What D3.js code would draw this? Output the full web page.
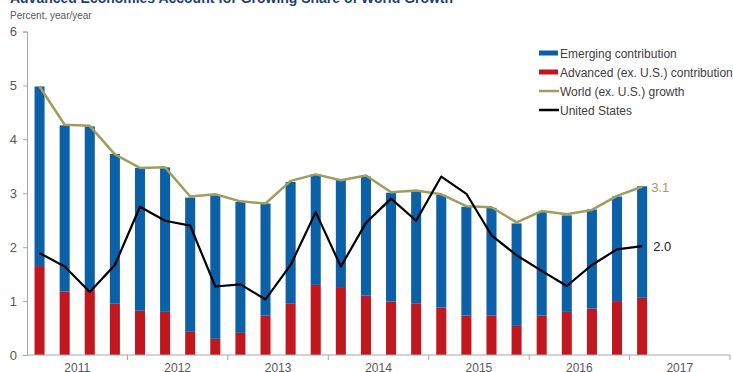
<!DOCTYPE html>
<html>
<head>
<meta charset="utf-8">
<script src="https://cdn.jsdelivr.net/npm/d3@7"></script>
<style>
  body { margin: 0; background: #fff; }
  svg { display: block; font-family: "Liberation Sans", Arial, sans-serif; }
</style>
</head>
<body>
<svg id="chart" width="733" height="372"></svg>
<script>
// ---- data ----
const quarters = ["2011Q1","2011Q2","2011Q3","2011Q4","2012Q1","2012Q2","2012Q3","2012Q4",
  "2013Q1","2013Q2","2013Q3","2013Q4","2014Q1","2014Q2","2014Q3","2014Q4",
  "2015Q1","2015Q2","2015Q3","2015Q4","2016Q1","2016Q2","2016Q3","2016Q4","2017Q1"];
const advancedContribution = [1.65,1.18,1.21,0.95,0.82,0.80,0.43,0.30,
  0.41,0.73,0.96,1.30,1.26,1.10,0.99,0.96,
  0.88,0.73,0.73,0.54,0.73,0.80,0.86,1.00,1.06];
const totalBar = [4.98,4.26,4.24,3.73,3.47,3.48,2.92,2.96,
  2.84,2.81,3.21,3.35,3.25,3.31,3.01,3.04,
  2.97,2.75,2.73,2.44,2.65,2.59,2.70,2.94,3.13];
const emergingContribution = totalBar.map((t, i) => +(t - advancedContribution[i]).toFixed(2));
const worldGrowth = [4.98,4.27,4.25,3.72,3.47,3.48,2.94,2.98,
  2.85,2.81,3.23,3.35,3.24,3.33,3.02,3.05,
  2.98,2.76,2.74,2.46,2.67,2.61,2.69,2.95,3.12];
const usGrowth = [1.89,1.64,1.17,1.67,2.75,2.49,2.40,1.27,
  1.31,1.03,1.67,2.65,1.64,2.45,2.90,2.49,
  3.31,2.99,2.22,1.85,1.56,1.28,1.67,1.96,2.02];
const years = ["2011","2012","2013","2014","2015","2016","2017"];
const yTicks = [0,1,2,3,4,5,6];
const seriesNames = ["Emerging contribution","Advanced (ex. U.S.) contribution","World (ex. U.S.) growth","United States"];
const title = "Advanced Economies Account for Growing Share of World Growth";
const subtitle = "Percent, year/year";
const worldLabel = "3.1";
const usLabel = "2.0";

// ---- styles ----
const C = { blue: "#0B60A8", red: "#C1171F", olive: "#A09E5E", black: "#000000", axis: "#A6A6A6", text: "#595959", title: "#1F3E6E" };

const svg = d3.select("#chart");
const mLeft = 27, mRight = 730, mTop = 31.5, mBottom = 355;

const xYear = d3.scaleBand().domain(years).range([mLeft, mRight]).padding(0);
const allQuarters = years.flatMap(yr => ["Q1","Q2","Q3","Q4"].map(q => yr + q));
const xQ = d3.scaleBand().domain(allQuarters).range([mLeft, mRight]).paddingInner(0.6).paddingOuter(0.3);
const xC = q => xQ(q) + xQ.bandwidth() / 2;
const y = d3.scaleLinear().domain([0, 6]).range([mBottom, mTop]);

// title & subtitle
svg.append("text").attr("x", 10).attr("y", 3).attr("font-size", 14).attr("font-weight", "bold")
  .attr("fill", C.title).attr("textLength", 443).attr("lengthAdjust", "spacingAndGlyphs").text(title);
svg.append("text").attr("x", 10).attr("y", 19).attr("font-size", 10).attr("fill", C.text).text(subtitle);

// bars
const g = svg.append("g");
g.selectAll("rect.adv").data(quarters).join("rect").attr("class", "adv")
  .attr("x", d => xQ(d)).attr("width", xQ.bandwidth())
  .attr("y", (d, i) => y(advancedContribution[i])).attr("height", (d, i) => y(0) - y(advancedContribution[i]))
  .attr("fill", C.red);
g.selectAll("rect.em").data(quarters).join("rect").attr("class", "em")
  .attr("x", d => xQ(d)).attr("width", xQ.bandwidth())
  .attr("y", (d, i) => y(advancedContribution[i] + emergingContribution[i]))
  .attr("height", (d, i) => y(advancedContribution[i]) - y(advancedContribution[i] + emergingContribution[i]))
  .attr("fill", C.blue);

// lines
const line = vals => d3.line().x((d, i) => xC(quarters[i])).y(d => y(d))(vals);
svg.append("path").attr("d", line(worldGrowth)).attr("fill", "none").attr("stroke", C.olive).attr("stroke-width", 2.5).attr("stroke-linejoin", "round");
svg.append("path").attr("d", line(usGrowth)).attr("fill", "none").attr("stroke", C.black).attr("stroke-width", 2.2).attr("stroke-linejoin", "round");

// end labels
const last = quarters.length - 1;
svg.append("text").attr("x", xC(quarters[last]) + 9).attr("y", y(worldGrowth[last]) + 5).attr("font-size", 13).attr("fill", C.olive).text(worldLabel);
svg.append("text").attr("x", xC(quarters[last]) + 11).attr("y", y(usGrowth[last]) + 5).attr("font-size", 13).attr("fill", "#222").text(usLabel);

// y axis
const yAxis = svg.append("g").attr("transform", `translate(${mLeft},0)`)
  .call(d3.axisLeft(y).tickValues(yTicks).tickSize(4).tickPadding(6).tickFormat(d3.format("d")));
yAxis.select(".domain").attr("stroke", C.axis);
yAxis.selectAll(".tick line").attr("stroke", C.axis);
yAxis.selectAll(".tick text").attr("fill", C.text).attr("font-size", 13).attr("font-family", "Liberation Sans, Arial, sans-serif");

// x axis
const xAxis = svg.append("g").attr("transform", `translate(0,${mBottom})`)
  .call(d3.axisBottom(xYear).tickSize(0).tickPadding(8));
xAxis.select(".domain").attr("stroke", C.axis).attr("d", `M${mLeft},0H${mRight}`);
xAxis.selectAll(".tick text").attr("fill", C.text).attr("font-size", 12).attr("font-family", "Liberation Sans, Arial, sans-serif");
xAxis.selectAll("line.yb").data(years).join("line").attr("class", "yb")
  .attr("x1", d => xYear(d) + xYear.bandwidth()).attr("x2", d => xYear(d) + xYear.bandwidth())
  .attr("y1", 0).attr("y2", 5).attr("stroke", C.axis);

// legend
const legend = svg.append("g").attr("transform", "translate(539,53)");
const legColors = [C.blue, C.red, C.olive, C.black];
seriesNames.forEach((name, i) => {
  const row = legend.append("g").attr("transform", `translate(0,${i * 19})`);
  if (i < 2) row.append("rect").attr("x", 0).attr("y", -2.5).attr("width", 19).attr("height", 5).attr("fill", legColors[i]);
  else row.append("line").attr("x1", 0).attr("x2", 20).attr("y1", 0).attr("y2", 0).attr("stroke", legColors[i]).attr("stroke-width", 2.5);
  row.append("text").attr("x", 21).attr("y", 4.5).attr("font-size", 12).attr("fill", "#404040").text(name);
});
</script>
</body>
</html>
